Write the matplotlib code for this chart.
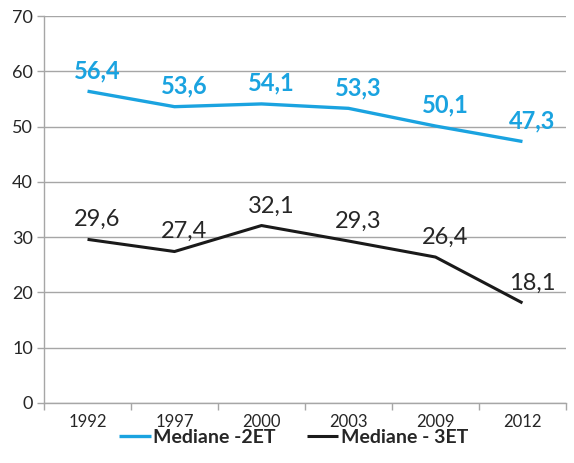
import matplotlib.pyplot as plt

# data
years = ["1992", "1997", "2000", "2003", "2009", "2012"]
mediane_2et = [56.4, 53.6, 54.1, 53.3, 50.1, 47.3]
mediane_3et = [29.6, 27.4, 32.1, 29.3, 26.4, 18.1]

blue = "#1AA3E0"
grid_gray = "#A6A6A6"
text_col = "#262626"

plt.rcParams['font.family'] = ['Lato', 'DejaVu Sans']

fig = plt.figure(figsize=(5.74, 4.63), dpi=100)
ax = fig.add_axes([0.0767, 0.1296, 0.9093, 0.8358])

x = list(range(len(years)))
ax.plot(x, mediane_2et, color=blue, lw=2.4, label="Mediane -2ET", solid_capstyle='butt')
ax.plot(x, mediane_3et, color="#1a1a1a", lw=2.2, label="Mediane - 3ET", solid_capstyle='butt')

# labels sit a bit right of the point, like in the original
for xi, v in zip(x, mediane_2et):
    ax.annotate(f"{v:.1f}".replace(".", ","), (xi, v), xytext=(7, 9.5), textcoords="offset points",
                ha="center", va="baseline", fontsize=17, fontweight="bold", color=blue)
for xi, v in zip(x, mediane_3et):
    ax.annotate(f"{v:.1f}".replace(".", ","), (xi, v), xytext=(7, 9.5), textcoords="offset points",
                ha="center", va="baseline", fontsize=17, color=text_col)

ax.set_xlim(-0.5, len(years) - 0.5)
ax.set_ylim(0, 70)
ax.set_yticks(range(0, 71, 10))
ax.set_xticks(x)
ax.set_xticklabels(years)
ax.set_xticks([i - 0.5 for i in range(len(years) + 1)], minor=True)
ax.tick_params(axis='x', which='major', length=0, pad=8, labelsize=12, labelcolor=text_col)
ax.tick_params(axis='x', which='minor', length=5, color=grid_gray, width=1)
ax.tick_params(axis='y', length=5, color=grid_gray, width=1, labelsize=13, labelcolor=text_col, pad=3)

ax.grid(axis='y', color=grid_gray, lw=1)
ax.set_axisbelow(True)
for s in ['top', 'right']:
    ax.spines[s].set_visible(False)
for s in ['left', 'bottom']:
    ax.spines[s].set_color(grid_gray)
    ax.spines[s].set_linewidth(1)

leg = fig.legend(loc="center", bbox_to_anchor=(0.512, 0.056), ncol=2, frameon=False,
                 prop={'weight': 'bold', 'size': 14}, handlelength=1.6, columnspacing=1.6,
                 handletextpad=0.15)
for t in leg.get_texts():
    t.set_color(text_col)

fig.savefig("out.png", dpi=100)
